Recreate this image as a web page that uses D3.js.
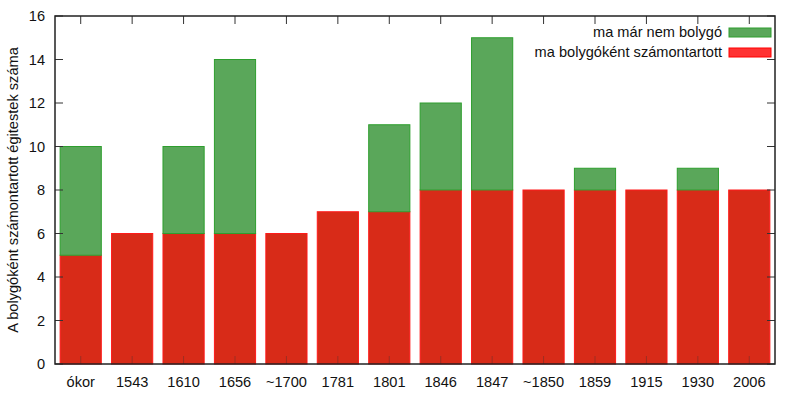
<!DOCTYPE html>
<html>
<head>
<meta charset="utf-8">
<script src="https://cdn.jsdelivr.net/npm/d3@7"></script>
<style>
body { margin: 0; background: #fff; }
text { font-family: "Liberation Sans", Arial, sans-serif; fill: #111; }
</style>
</head>
<body>
<div id="chart"></div>
<script>
// data
var categories = ["ókor", "1543", "1610", "1656", "~1700", "1781", "1801", "1846", "1847", "~1850", "1859", "1915", "1930", "2006"];
var planets = [5, 6, 6, 6, 6, 7, 7, 8, 8, 8, 8, 8, 8, 8];      // ma bolygóként számontartott
var former  = [5, 0, 4, 8, 0, 0, 4, 4, 7, 0, 1, 0, 1, 0];      // ma már nem bolygó
var yTicks = [0, 2, 4, 6, 8, 10, 12, 14, 16];

var margin = {top: 16, right: 25, bottom: 36, left: 55},
    width = 800 - margin.left - margin.right,
    height = 400 - margin.top - margin.bottom;

var fs = "14.6px";

var svg = d3.select("#chart")
  .append("svg")
    .attr("width", 800)
    .attr("height", 400)
  .append("g")
    .attr("transform", "translate(" + margin.left + "," + margin.top + ")");

var x = d3.scaleBand().domain(categories).range([0, width]).paddingInner(0.18).paddingOuter(0.09);
var y = d3.scaleLinear().domain([0, 16]).range([height, 0]);

// bars
var red = "#d82b18", green = "#5aa75a";

svg.selectAll(".bar-red")
  .data(categories)
  .enter().append("rect")
    .attr("x", function(d) { return x(d) + 0.5; })
    .attr("y", function(d, i) { return y(planets[i]); })
    .attr("width", x.bandwidth() - 1)
    .attr("height", function(d, i) { return y(0) - y(planets[i]); })
    .attr("fill", red)
    .attr("stroke", "#ff1a1a")
    .attr("stroke-width", 1);

svg.selectAll(".bar-green")
  .data(categories.filter(function(d, i) { return former[i] > 0; }))
  .enter().append("rect")
    .attr("x", function(d) { return x(d) + 0.5; })
    .attr("y", function(d) { var i = categories.indexOf(d); return y(planets[i] + former[i]); })
    .attr("width", x.bandwidth() - 1)
    .attr("height", function(d) { var i = categories.indexOf(d); return y(planets[i]) - y(planets[i] + former[i]); })
    .attr("fill", green)
    .attr("stroke", "#2e9e2e")
    .attr("stroke-width", 1);

// axes (gnuplot style: ticks inward, mirrored)
var xCenter = function(d) { return x(d) + x.bandwidth() / 2; };

svg.append("g")
  .attr("transform", "translate(0," + height + ")")
  .call(d3.axisBottom(x).tickSize(0).tickPadding(13))
  .call(function(g) { g.select(".domain").remove(); })
  .selectAll("text").style("font-size", fs);

svg.append("g")
  .call(d3.axisLeft(y).tickValues(yTicks).tickSize(0).tickPadding(10))
  .call(function(g) { g.select(".domain").remove(); })
  .selectAll("text").style("font-size", fs);

var tickColor = "#333";
// x ticks bottom & top
svg.selectAll(".xt-b").data(categories).enter().append("line")
  .attr("x1", xCenter).attr("x2", xCenter)
  .attr("y1", height).attr("y2", height - 8)
  .attr("stroke", tickColor).attr("stroke-opacity", 0.35);
svg.selectAll(".xt-t").data(categories).enter().append("line")
  .attr("x1", xCenter).attr("x2", xCenter)
  .attr("y1", 0).attr("y2", 8)
  .attr("stroke", tickColor);
// y ticks left & right
svg.selectAll(".yt-l").data(yTicks).enter().append("line")
  .attr("x1", 0).attr("x2", 8)
  .attr("y1", function(d) { return y(d); }).attr("y2", function(d) { return y(d); })
  .attr("stroke", tickColor);
svg.selectAll(".yt-r").data(yTicks).enter().append("line")
  .attr("x1", width).attr("x2", width - 8)
  .attr("y1", function(d) { return y(d); }).attr("y2", function(d) { return y(d); })
  .attr("stroke", tickColor);

// frame
svg.append("rect")
  .attr("x", 0).attr("y", 0)
  .attr("width", width).attr("height", height)
  .attr("fill", "none")
  .attr("stroke", "#222")
  .attr("stroke-width", 1.5);

// y label
svg.append("text")
  .attr("transform", "rotate(-90)")
  .attr("x", -height / 2)
  .attr("y", -37)
  .style("text-anchor", "middle")
  .style("font-size", fs)
  .text("A bolygóként számontartott égitestek száma");

// legend
var legend = [
  {label: "ma már nem bolygó", fill: green, stroke: "#2e9e2e"},
  {label: "ma bolygóként számontartott", fill: "#ff3333", stroke: "#ff0000"}
];
var lg = svg.selectAll(".legend").data(legend).enter().append("g")
  .attr("transform", function(d, i) { return "translate(0," + (i * 20) + ")"; });
lg.append("rect")
  .attr("x", width - 46).attr("y", 12)
  .attr("width", 42).attr("height", 9)
  .attr("fill", function(d) { return d.fill; })
  .attr("stroke", function(d) { return d.stroke; });
lg.append("text")
  .attr("x", width - 53).attr("y", 21)
  .style("text-anchor", "end")
  .style("font-size", fs)
  .text(function(d) { return d.label; });
</script>
</body>
</html>
